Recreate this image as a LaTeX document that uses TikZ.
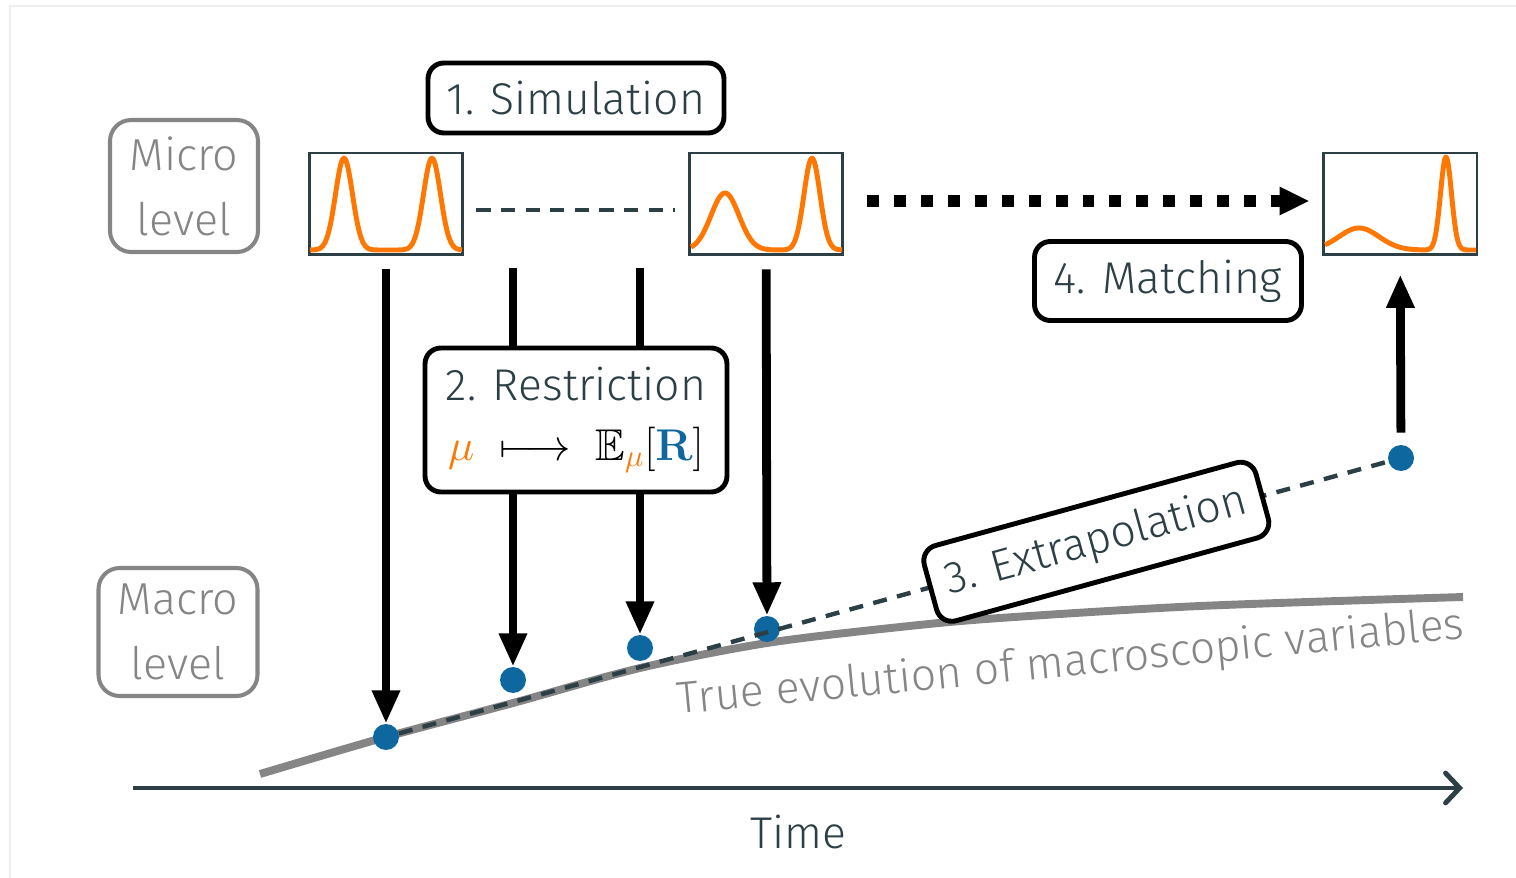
\documentclass[tikz,border=0pt]{standalone}
\usepackage{fix-cm}
\usepackage{amssymb}
\usepackage[no-math]{fontspec}
\setmainfont{Fira Sans}[UprightFont=* Light]
\usetikzlibrary{arrows.meta,positioning,calc}

\definecolor{slate}{HTML}{2B3F45}
\definecolor{dotblue}{HTML}{0F67A0}
\definecolor{peak}{HTML}{FF7700}
\definecolor{lvgray}{HTML}{858585}
\definecolor{framegray}{HTML}{EEEEEE}

\tikzset{
  stage/.style={draw=black, solid, line width=2.8pt, rounded corners=9pt, fill=white,
    text=slate, align=center, inner sep=0pt, font=\fontsize{25.3}{34}\selectfont},
  level/.style={draw=lvgray, line width=2.3pt, rounded corners=12pt, text=lvgray,
    align=center, font=\fontsize{25.5}{37}\selectfont},
  plotbox/.style={draw=slate, line width=1.7pt, fill=white, minimum width=3.08cm,
    minimum height=2.04cm, inner sep=0pt},
  density/.style={peak, line width=2.8pt, line join=round},
  state/.style={circle, fill=dotblue, minimum size=0.52cm, inner sep=0pt},
  push/.style={line width=5pt, -{Triangle[length=19pt, width=15pt]}},
  gap/.style={slate, line width=2.5pt, dash pattern=on 8pt off 6pt},
}

\begin{document}
\begin{tikzpicture}[x=0.02cm, y=-0.02cm,
  declare function={g(\xa,\xm,\xs)=exp(-((\xa-\xm)/\xs)^2/2);}]
\useasboundingbox (0,0) rectangle (1516,878);
\draw[framegray, line width=0.6pt] (10,878) -- (10,6) -- (1516,6);

% levels
\node[level, minimum width=2.96cm, minimum height=2.64cm] (micro) at (184,186) {Micro\\level};
\node[level, minimum width=3.18cm, minimum height=2.56cm] (macro) at (178,632) {Macro\\level};

% micro states
\node[plotbox] (plotA) at (386,204) {};
\node[plotbox] (plotB) at (766,204) {};
\node[plotbox] (plotC) at (1400,204) {};
\draw[density] plot[domain=310:462, samples=120]
  (\x, {250-92*(g(\x,344,8.5)+g(\x,432,8.5))});
\draw[density] plot[domain=691:842, samples=120]
  (\x, {250-57*g(\x,725,14)-92*g(\x,812,8)});
\draw[density] plot[domain=1325:1476, samples=150]
  (\x, {250-22*g(\x,1359,20)-93*g(\x,1446,5.5)});

\node[stage, minimum width=5.92cm, minimum height=1.4cm] (sim) at (576,98) {1. Simulation};
\draw[gap, shorten <=0.24cm, shorten >=0.26cm]
  ([yshift=-0.12cm]plotA.east) -- ([yshift=-0.12cm]plotB.west);
\draw[line width=6.8pt, dash pattern=on 6.8pt off 8.5pt,
  -{Triangle[length=17pt, width=15pt]}, shorten <=0.46cm, shorten >=0.24cm]
  ([yshift=0.06cm]plotB.east) -- ([yshift=0.06cm]plotC.west);
\node[stage, minimum width=5.34cm, minimum height=1.58cm] (match) at (1168,281) {4. Matching};

% macro level
\draw[lvgray, line width=4.5pt] plot[smooth] coordinates {(260,774) (386,737) (513,703)
  (640,668) (767,643) (900,627) (1000,618) (1200,606) (1463,597)};
\node[text=lvgray, rotate=5.5, font=\fontsize{25.3}{30}\selectfont] (truelabel) at (1071,664)
  {True evolution of macroscopic variables};

\node[state] (d1) at (386,737) {};
\node[state] (d2) at (513,680) {};
\node[state] (d3) at (640,648) {};
\node[state] (d4) at (767,629) {};
\node[state] (d5) at (1401,458) {};
\draw[gap] (d1) -- (d5) node[stage, sloped, pos=0.705, minimum width=6.88cm,
  minimum height=1.56cm] (extra) {3. Extrapolation};

% restriction
\coordinate (s2) at (513,268);
\coordinate (s3) at (640,268);
\draw[push, shorten <=0.26cm] (plotA) -- (d1);
\draw[push] (s2) -- (d2);
\draw[push] (s3) -- (d3);
\draw[push, shorten <=0.26cm] (plotB) -- (d4);
\node[stage, minimum width=6.04cm, minimum height=2.88cm] (restrict) at (576,420)
  {2. Restriction\\ $\textcolor{peak}{\mu}\;\color{black}\longmapsto\;
  \mathbb{E}_{\textcolor{peak}{\mu}}[\textcolor{dotblue}{\mathbf{R}}]$};
\draw[push, shorten <=0.24cm, shorten >=0.36cm] (d5) -- (plotC);

% time axis
\coordinate (t0) at (133,788);
\coordinate (t1) at (1463,788);
\draw[slate, line width=2.8pt, -{Straight Barb[length=8pt, width=17pt, line cap=round]}] (t0) -- (t1);
\node[text=slate, font=\fontsize{25.3}{30}\selectfont] (time) at (798,832) {Time};
\end{tikzpicture}
\end{document}
